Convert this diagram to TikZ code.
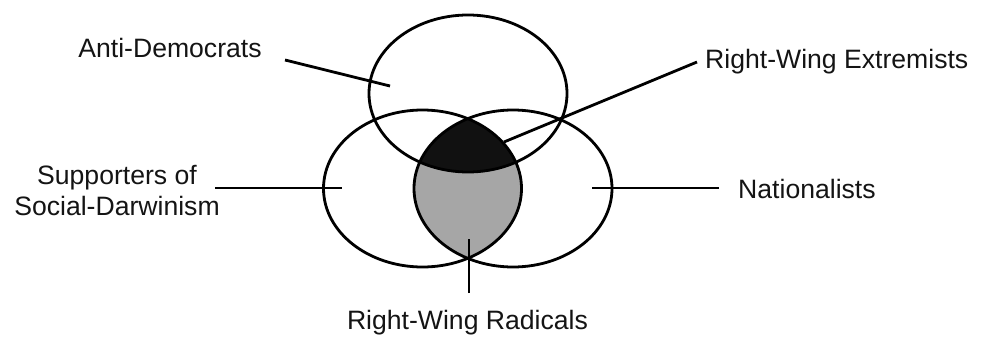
\documentclass[tikz,border=0pt]{standalone}
\usepackage{fontspec}
\setmainfont{Liberation Sans}
\usetikzlibrary{shapes.geometric}
\definecolor{darkfill}{HTML}{111111}
\definecolor{grayfill}{HTML}{A6A6A6}
\begin{document}
\begin{tikzpicture}[x=1pt,y=-1pt,
  setshape/.style={ellipse,draw=black,line width=2.8pt,minimum width=198pt,minimum height=157pt,inner sep=0pt},
  lbl/.style={font=\fontsize{26.6}{31}\selectfont,inner sep=0pt,text=black!92},
  conn/.style={line width=2.8pt}]
\useasboundingbox (0,0) rectangle (984,337);
% fills
\begin{scope}
  \clip (422.5,188.5) ellipse [x radius=99, y radius=78.5];
  \fill[grayfill] (513,188.5) ellipse [x radius=99, y radius=78.5];
  \clip (513,188.5) ellipse [x radius=99, y radius=78.5];
  \fill[darkfill] (468,93.5) ellipse [x radius=99, y radius=78.5];
\end{scope}
% sets
\node[setshape] (top) at (468,93.5) {};
\node[setshape] (left) at (422.5,188.5) {};
\node[setshape] (right) at (513,188.5) {};
% labels
\node[lbl,anchor=base] (anti) at (170,58) {Anti-Democrats};
\node[lbl,anchor=base,align=center] (supp) at (117,215) {Supporters of\\Social-Darwinism};
\node[lbl,anchor=base west] (extr) at (705,68) {Right-Wing Extremists};
\node[lbl,anchor=base west] (nat) at (738,198) {Nationalists};
\node[lbl,anchor=base] (rad) at (467.5,329) {Right-Wing Radicals};
% connector ends
\coordinate (antiA) at (285,60);
\coordinate (antiB) at (390,86);
\coordinate (extrA) at (697,62);
\coordinate (extrB) at (504,142);
\coordinate (suppA) at (215,188);
\coordinate (suppB) at (342,188);
\coordinate (natA) at (719,188);
\coordinate (natB) at (592,188);
\coordinate (radA) at (469,293);
\coordinate (radB) at (469,239);
\draw[conn] (antiA) -- (antiB);
\draw[conn] (extrA) -- (extrB);
\draw[conn] (suppA) -- (suppB);
\draw[conn] (natA) -- (natB);
\draw[conn] (radA) -- (radB);
\end{tikzpicture}
\end{document}
